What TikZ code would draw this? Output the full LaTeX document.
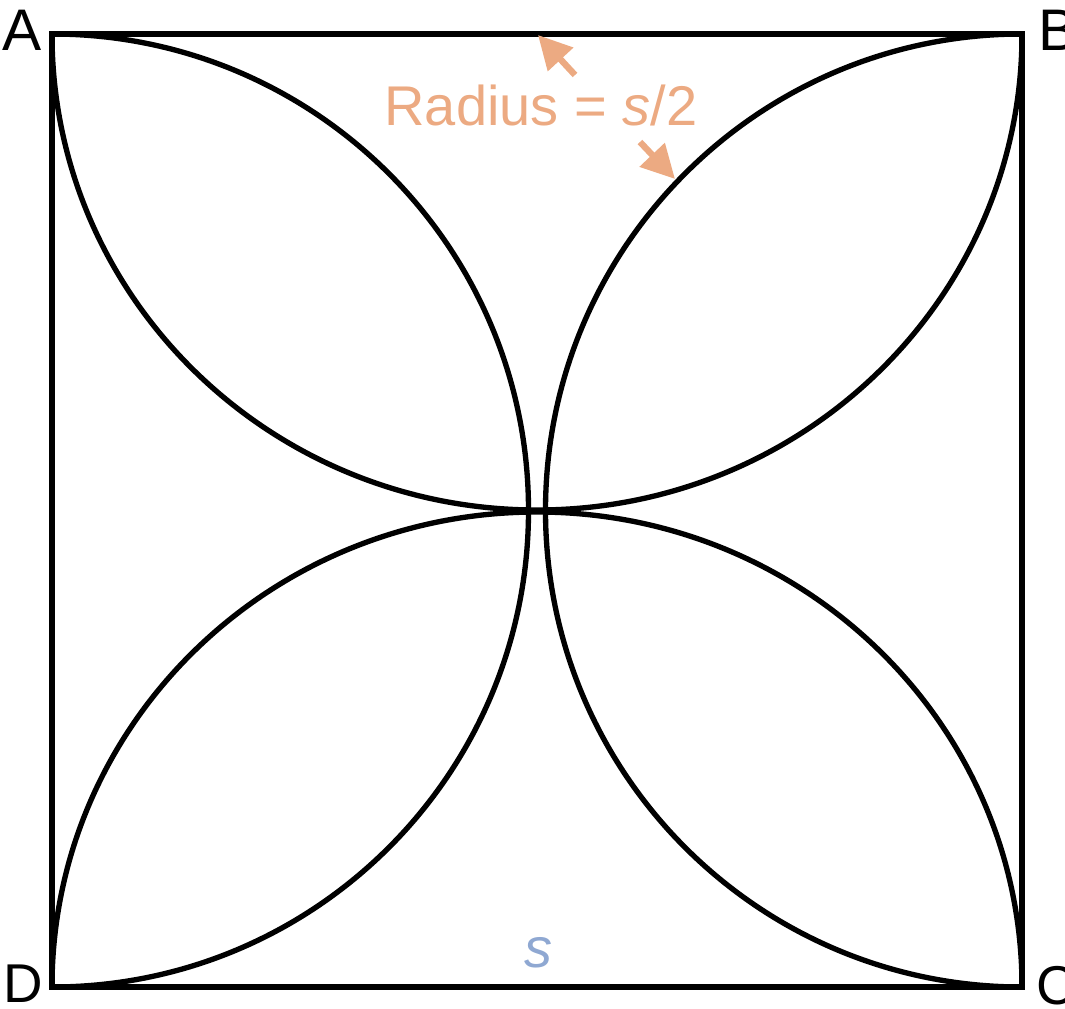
\documentclass[tikz,border=0pt]{standalone}
\usepackage{fontspec}
\setmainfont{Liberation Sans}
\usetikzlibrary{arrows.meta}
\definecolor{salmon}{RGB}{236,170,130}
\definecolor{sideblue}{RGB}{143,168,210}
\tikzset{every picture/.style={line width=0.75pt}}
\begin{document}
\begin{tikzpicture}[x=0.75pt,y=0.75pt,yscale=-1,xscale=1,
  edge/.style={line width=4pt, line join=miter},
  cornerlabel/.style={anchor=base west, inner sep=0pt, font=\fontsize{44}{44}\selectfont},
  lowlabel/.style={anchor=base west, inner sep=0pt, font=\fontsize{41}{41}\selectfont},
  radarrow/.style={salmon, line width=4.8pt, -{Triangle[length=25pt,width=25pt]}},
  notelabel/.style={inner sep=0pt, font=\fontsize{42}{42}\selectfont}
]
\useasboundingbox (0,0) rectangle (1065,1008);

%Corners of the square
\coordinate (A) at (52,34);
\coordinate (B) at (1022,34);
\coordinate (C) at (1022,987);
\coordinate (D) at (52,987);

%Shape: Square
\draw [edge] (A) -- (B) -- (C) -- (D) -- cycle;
%Arc about the top midpoint
\draw [edge] (A) arc [start angle=180, end angle=0, x radius=485, y radius=476];
%Arc about the bottom midpoint
\draw [edge] (D) arc [start angle=180, end angle=360, x radius=485, y radius=475];
%Arc about the left midpoint
\draw [edge] (A) arc [start angle=-90, end angle=90, radius=476.5];
%Arc about the right midpoint
\draw [edge] (B) arc [start angle=270, end angle=90, radius=476.5];

%Arrows for the radius
\coordinate (uptail) at (575,75);
\coordinate (uptip) at (538,35);
\coordinate (downtail) at (640,142);
\coordinate (downtip) at (675,179);
\draw [radarrow] (uptail) -- (uptip);
\draw [radarrow] (downtail) -- (downtip);

% Text Node
\node [cornerlabel] (labA) at (2,50) {A};
% Text Node
\node [cornerlabel] (labB) at (1038,50) {B};
% Text Node
\node [lowlabel] (labC) at (1036,1004) {C};
% Text Node
\node [lowlabel] (labD) at (3,1002) {D};
% Text Node
\node [notelabel, salmon, anchor=base west] (radius) at (384,125) {Radius = \textit{s}/2};
% Text Node
\node [notelabel, sideblue, anchor=base] (side) at (538,967) {\textit{s}};

\end{tikzpicture}
\end{document}
